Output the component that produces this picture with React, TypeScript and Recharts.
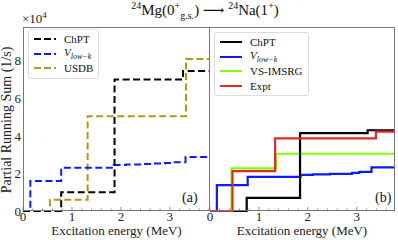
import { LineChart, Line, XAxis, YAxis } from "recharts";

// step data: [energy (MeV), running sum (x10^4 1/s)]
const chptA = [[0, 0], [0.78, 1.0], [1.87, 7.0], [3.27, 7.45], [3.82, 7.45]];
const vlowkA = [[0, 0], [0.15, 1.6], [0.78, 2.3], [1.85, 2.45], [2.1, 2.47], [2.45, 2.5], [2.65, 2.53], [2.9, 2.56], [3.05, 2.6], [3.32, 2.87], [3.82, 2.87]];
const usdbA = [[0, 0], [0.55, 0.6], [1.32, 5.05], [3.33, 8.1], [3.82, 8.1]];

const chptB = [[0, 0], [0.75, 0.7], [1.84, 4.15], [3.22, 4.3], [3.76, 4.3]];
const vlowkB = [[0, 0], [0.14, 1.38], [0.77, 1.82], [1.85, 1.92], [2.1, 1.95], [2.45, 1.98], [2.9, 2.03], [3.05, 2.08], [3.3, 2.32], [3.76, 2.32]];
const imsrgB = [[0, 0], [0.44, 2.27], [1.35, 3.05], [3.76, 3.05]];
const exptB = [[0, 0], [0.46, 2.12], [1.33, 3.87], [3.39, 4.23], [3.76, 4.23]];

const xTicksA = [0, 0.2, 0.4, 0.6, 0.8, 1, 1.2, 1.4, 1.6, 1.8, 2, 2.2, 2.4, 2.6, 2.8, 3, 3.2, 3.4, 3.6, 3.8];
const xTicksB = [0, 0.2, 0.4, 0.6, 0.8, 1, 1.2, 1.4, 1.6, 1.8, 2, 2.2, 2.4, 2.6, 2.8, 3, 3.2, 3.4, 3.6];
const yTicks = [0, 2, 4, 6, 8];
const yTicksB = [0, 1, 2, 3, 4, 5, 6, 7, 8, 9];

const C = {
  black: "#000000",
  blue: "#0a1cff",
  olive: "#b8960f",
  green: "#80ff00",
  red: "#e02a2a",
};

const FONT = "'Liberation Serif', 'DejaVu Serif', serif";
const FRAME = "#777";
const TS = 6; // recharts tick offset
const HIDDEN = { stroke: "transparent" };

const toPts = (arr: number[][]) => arr.map(([x, y]) => ({ x, y }));

const isInt = (v: number) => Math.abs(v - Math.round(v)) < 1e-6;

function XTick(props: any) {
  const { x, y, payload } = props;
  const v = payload.value;
  const major = isInt(v);
  const base = y - TS;
  return (
    <g>
      <line x1={x} x2={x} y1={base} y2={base - (major ? 4 : 2.5)} stroke={FRAME} strokeWidth={0.8} />
      {major && (
        <text x={x} y={base + 9.5} textAnchor="middle" fontSize={13} fontFamily={FONT} fill="#222">
          {v}
        </text>
      )}
    </g>
  );
}

function LegendBox({ left, top, items, dashed }: { left: number; top: number; items: { label: any; color: string }[]; dashed: boolean }) {
  return (
    <div
      style={{
        position: "absolute",
        left,
        top,
        padding: "2px 5px 2px 4px",
        border: "1px solid #ddd",
        borderRadius: 3,
        background: "rgba(255,255,255,0.85)",
        fontFamily: FONT,
        fontSize: 11,
        color: "#111",
      }}
    >
      {items.map((it, i) => (
        <div key={i} style={{ display: "flex", alignItems: "center", height: 14.5 }}>
          <svg width={24} height={6} style={{ marginRight: 7 }}>
            <line x1={1} x2={23} y1={3} y2={3} stroke={it.color} strokeWidth={2} strokeDasharray={dashed ? "7 3" : undefined} />
          </svg>
          <span>{it.label}</span>
        </div>
      ))}
    </div>
  );
}

const Vlk = (
  <span>
    <i>V</i>
    <sub style={{ fontSize: 8, fontStyle: "italic" }}>low−k</sub>
  </span>
);

export default function App() {
  return (
    <div style={{ position: "absolute", left: 0, top: 0, width: 398, height: 240, background: "#fff", fontFamily: FONT }}>
      <style>{`.recharts-surface{overflow:visible}`}</style>
      {/* title */}
      <div style={{ position: "absolute", left: 0, top: 0, width: 410, textAlign: "center", fontSize: 15, color: "#111", whiteSpace: "nowrap" }}>
        <sup style={{ fontSize: 10 }}>24</sup>Mg(0<sup style={{ fontSize: 10 }}>+</sup>
        <sub style={{ fontSize: 10 }}>g.s.</sub>) ⟶ <sup style={{ fontSize: 10 }}>24</sup>Na(1<sup style={{ fontSize: 10 }}>+</sup>)
      </div>
      <div style={{ position: "absolute", left: 22, top: 10, fontSize: 13, color: "#222" }}>
        ×10<sup style={{ fontSize: 9 }}>4</sup>
      </div>
      <div
        style={{
          position: "absolute",
          left: 7,
          top: 120,
          transform: "translate(-50%, -50%) rotate(-90deg)",
          fontSize: 14,
          color: "#222",
          whiteSpace: "nowrap",
        }}
      >
        Partial Running Sum (1/s)
      </div>

      {/* panel (a) */}
      <div style={{ position: "absolute", left: -17, top: 0 }}>
        <LineChart width={227} height={240} margin={{ top: 27, right: 0, bottom: 9, left: 0 }}>
          <XAxis type="number" dataKey="x" domain={[0, 3.82]} ticks={xTicksA} interval={0} tick={(p: any) => <XTick {...p} />} tickSize={TS} tickMargin={0} axisLine={HIDDEN} tickLine={HIDDEN} height={20} allowDataOverflow />
          <YAxis
            type="number"
            dataKey="y"
            domain={[0, 9.8]}
            ticks={yTicks}
            tick={{ fontSize: 13, fontFamily: FONT, fill: "#222" }}
            tickSize={2}
            tickMargin={0}
            axisLine={HIDDEN}
            tickLine={HIDDEN}
            width={40}
          />
          <Line data={toPts(usdbA)} dataKey="y" type="stepAfter" stroke={C.olive} strokeWidth={2} strokeDasharray="7 3.5" dot={false} isAnimationActive={false} />
          <Line data={toPts(vlowkA)} dataKey="y" type="stepAfter" stroke={C.blue} strokeWidth={2} strokeDasharray="7 3.5" dot={false} isAnimationActive={false} />
          <Line data={toPts(chptA)} dataKey="y" type="stepAfter" stroke={C.black} strokeWidth={2} strokeDasharray="7 3.5" dot={false} isAnimationActive={false} />
        </LineChart>
      </div>

      {/* panel (b) */}
      <div style={{ position: "absolute", left: 170, top: 0 }}>
        <LineChart width={228} height={240} margin={{ top: 27, right: 4, bottom: 9, left: 0 }}>
          <XAxis type="number" dataKey="x" domain={[0, 3.76]} ticks={xTicksB} interval={0} tick={(p: any) => <XTick {...p} />} tickSize={TS} tickMargin={0} axisLine={HIDDEN} tickLine={HIDDEN} height={20} allowDataOverflow />
          <YAxis type="number" dataKey="y" domain={[0, 9.8]} ticks={yTicksB} tick={false} axisLine={HIDDEN} tickLine={HIDDEN} width={40} />
          <Line data={toPts(imsrgB)} dataKey="y" type="stepAfter" stroke={C.green} strokeWidth={2.2} dot={false} isAnimationActive={false} />
          <Line data={toPts(vlowkB)} dataKey="y" type="stepAfter" stroke={C.blue} strokeWidth={2.2} dot={false} isAnimationActive={false} />
          <Line data={toPts(chptB)} dataKey="y" type="stepAfter" stroke={C.black} strokeWidth={2.2} dot={false} isAnimationActive={false} />
          <Line data={toPts(exptB)} dataKey="y" type="stepAfter" stroke={C.red} strokeWidth={2.2} dot={false} isAnimationActive={false} />
        </LineChart>
      </div>

      {/* frames */}
      <div style={{ position: "absolute", left: 23, top: 27, width: 187, height: 184, border: `1px solid ${FRAME}`, boxSizing: "border-box", pointerEvents: "none" }} />
      <div style={{ position: "absolute", left: 209, top: 27, width: 186, height: 184, border: `1px solid ${FRAME}`, boxSizing: "border-box", pointerEvents: "none" }} />

      <LegendBox
        left={28}
        top={29}
        dashed
        items={[
          { label: "ChPT", color: C.black },
          { label: Vlk, color: C.blue },
          { label: "USDB", color: C.olive },
        ]}
      />
      <LegendBox
        left={214}
        top={32}
        dashed={false}
        items={[
          { label: "ChPT", color: C.black },
          { label: Vlk, color: C.blue },
          { label: "VS-IMSRG", color: C.green },
          { label: "Expt", color: C.red },
        ]}
      />

      <div style={{ position: "absolute", left: 182, top: 190, fontSize: 14, color: "#111" }}>(a)</div>
      <div style={{ position: "absolute", left: 375, top: 190, fontSize: 14, color: "#111" }}>(b)</div>

      <div style={{ position: "absolute", left: 23, top: 223, width: 187, textAlign: "center", fontSize: 13, color: "#222" }}>Excitation energy (MeV)</div>
      <div style={{ position: "absolute", left: 209, top: 223, width: 186, textAlign: "center", fontSize: 13, color: "#222" }}>Excitation energy (MeV)</div>
    </div>
  );
}
